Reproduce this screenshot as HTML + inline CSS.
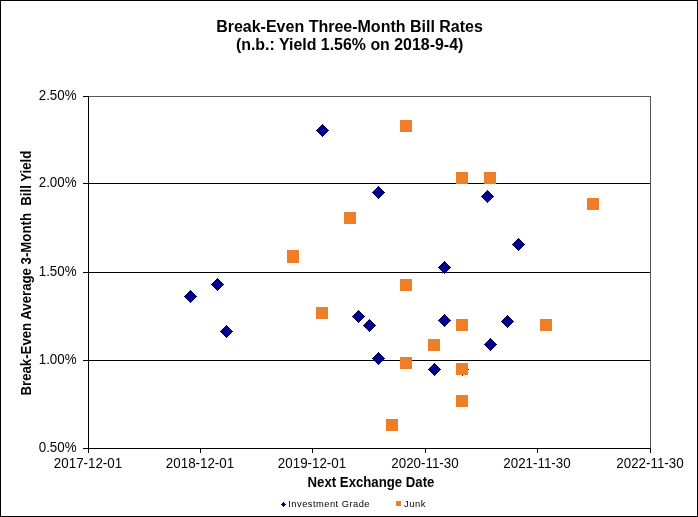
<!DOCTYPE html>
<html><head><meta charset="utf-8"><title>Break-Even Three-Month Bill Rates</title>
<style>
html,body{margin:0;padding:0;background:#fff;}
body{width:698px;height:517px;overflow:hidden;}
svg{display:block;}
text{font-family:"Liberation Sans",sans-serif;fill:#000;}
.b{font-weight:bold;}
#txt{opacity:0.999;}
</style></head><body>
<svg width="698" height="517" viewBox="0 0 698 517">
<rect x="0" y="0" width="698" height="517" fill="#fff"/>
<g shape-rendering="crispEdges">
<!-- outer border -->
<rect x="0" y="0" width="698" height="1" fill="#000"/>
<rect x="0" y="516" width="698" height="1" fill="#000"/>
<rect x="0" y="0" width="1" height="517" fill="#000"/>
<rect x="697" y="0" width="1" height="517" fill="#000"/>
<!-- plot border gray -->
<rect x="89" y="96" width="562" height="1" fill="#555555"/>
<rect x="650" y="96" width="1" height="353" fill="#555555"/>
<!-- gridlines -->
<rect x="89" y="183" width="561" height="1" fill="#000"/>
<rect x="89" y="272" width="561" height="1" fill="#000"/>
<rect x="89" y="360" width="561" height="1" fill="#000"/>
<!-- axes -->
<rect x="88" y="96" width="1" height="353" fill="#000"/>
<rect x="88" y="448" width="563" height="1" fill="#000"/>
<rect x="83" y="96" width="5" height="1" fill="#000"/>
<rect x="83" y="183" width="5" height="1" fill="#000"/>
<rect x="83" y="272" width="5" height="1" fill="#000"/>
<rect x="83" y="360" width="5" height="1" fill="#000"/>
<rect x="83" y="448" width="5" height="1" fill="#000"/>
<rect x="88" y="449" width="1" height="4" fill="#000"/>
<rect x="200" y="449" width="1" height="4" fill="#000"/>
<rect x="312" y="449" width="1" height="4" fill="#000"/>
<rect x="425" y="449" width="1" height="4" fill="#000"/>
<rect x="537" y="449" width="1" height="4" fill="#000"/>
<rect x="650" y="449" width="1" height="4" fill="#000"/>
<!-- diamonds -->
<polygon points="190.5,290.0 197.0,296.5 190.5,303.0 184.0,296.5" fill="#000050"/>
<polygon points="190.5,291.0 196.0,296.5 190.5,302.0 185.0,296.5" fill="#00008c"/>
<polygon points="217.5,278.0 224.0,284.5 217.5,291.0 211.0,284.5" fill="#000050"/>
<polygon points="217.5,279.0 223.0,284.5 217.5,290.0 212.0,284.5" fill="#00008c"/>
<polygon points="226.5,325.0 233.0,331.5 226.5,338.0 220.0,331.5" fill="#000050"/>
<polygon points="226.5,326.0 232.0,331.5 226.5,337.0 221.0,331.5" fill="#00008c"/>
<polygon points="322.5,124.0 329.0,130.5 322.5,137.0 316.0,130.5" fill="#000050"/>
<polygon points="322.5,125.0 328.0,130.5 322.5,136.0 317.0,130.5" fill="#00008c"/>
<polygon points="358.5,310.0 365.0,316.5 358.5,323.0 352.0,316.5" fill="#000050"/>
<polygon points="358.5,311.0 364.0,316.5 358.5,322.0 353.0,316.5" fill="#00008c"/>
<polygon points="369.5,319.0 376.0,325.5 369.5,332.0 363.0,325.5" fill="#000050"/>
<polygon points="369.5,320.0 375.0,325.5 369.5,331.0 364.0,325.5" fill="#00008c"/>
<polygon points="378.5,352.0 385.0,358.5 378.5,365.0 372.0,358.5" fill="#000050"/>
<polygon points="378.5,353.0 384.0,358.5 378.5,364.0 373.0,358.5" fill="#00008c"/>
<polygon points="378.5,186.0 385.0,192.5 378.5,199.0 372.0,192.5" fill="#000050"/>
<polygon points="378.5,187.0 384.0,192.5 378.5,198.0 373.0,192.5" fill="#00008c"/>
<polygon points="444.5,261.0 451.0,267.5 444.5,274.0 438.0,267.5" fill="#000050"/>
<polygon points="444.5,262.0 450.0,267.5 444.5,273.0 439.0,267.5" fill="#00008c"/>
<polygon points="444.5,314.0 451.0,320.5 444.5,327.0 438.0,320.5" fill="#000050"/>
<polygon points="444.5,315.0 450.0,320.5 444.5,326.0 439.0,320.5" fill="#00008c"/>
<polygon points="434.5,363.0 441.0,369.5 434.5,376.0 428.0,369.5" fill="#000050"/>
<polygon points="434.5,364.0 440.0,369.5 434.5,375.0 429.0,369.5" fill="#00008c"/>
<polygon points="462.5,363.0 469.0,369.5 462.5,376.0 456.0,369.5" fill="#000050"/>
<polygon points="462.5,364.0 468.0,369.5 462.5,375.0 457.0,369.5" fill="#00008c"/>
<polygon points="487.5,190.0 494.0,196.5 487.5,203.0 481.0,196.5" fill="#000050"/>
<polygon points="487.5,191.0 493.0,196.5 487.5,202.0 482.0,196.5" fill="#00008c"/>
<polygon points="518.5,238.0 525.0,244.5 518.5,251.0 512.0,244.5" fill="#000050"/>
<polygon points="518.5,239.0 524.0,244.5 518.5,250.0 513.0,244.5" fill="#00008c"/>
<polygon points="507.5,315.0 514.0,321.5 507.5,328.0 501.0,321.5" fill="#000050"/>
<polygon points="507.5,316.0 513.0,321.5 507.5,327.0 502.0,321.5" fill="#00008c"/>
<polygon points="490.5,338.0 497.0,344.5 490.5,351.0 484.0,344.5" fill="#000050"/>
<polygon points="490.5,339.0 496.0,344.5 490.5,350.0 485.0,344.5" fill="#00008c"/>
<!-- squares -->
<rect x="287" y="250" width="12" height="13" fill="#EE7F28"/>
<rect x="316" y="307" width="12" height="12" fill="#EE7F28"/>
<rect x="344" y="212" width="12" height="12" fill="#EE7F28"/>
<rect x="400" y="120" width="12" height="12" fill="#EE7F28"/>
<rect x="400" y="279" width="12" height="12" fill="#EE7F28"/>
<rect x="400" y="357" width="12" height="12" fill="#EE7F28"/>
<rect x="386" y="419" width="12" height="12" fill="#EE7F28"/>
<rect x="428" y="339" width="12" height="12" fill="#EE7F28"/>
<rect x="456" y="172" width="12" height="12" fill="#EE7F28"/>
<rect x="484" y="172" width="12" height="12" fill="#EE7F28"/>
<rect x="456" y="319" width="12" height="12" fill="#EE7F28"/>
<rect x="456" y="363" width="12" height="12" fill="#EE7F28"/>
<rect x="456" y="395" width="12" height="12" fill="#EE7F28"/>
<rect x="540" y="319" width="12" height="12" fill="#EE7F28"/>
<rect x="587" y="198" width="12" height="12" fill="#EE7F28"/>
<!-- legend markers -->
<polygon points="283.5,502 286,504.5 283.5,507 281,504.5" fill="#000080"/>
<rect x="396" y="501" width="5" height="5" fill="#EE7F28"/>
</g>
<g id="txt">
<text class="b" transform="translate(349.5,32)" font-size="16" text-anchor="middle">Break-Even Three-Month Bill Rates</text>
<text class="b" transform="translate(349.6,50) scale(0.996,1)" font-size="16" text-anchor="middle">(n.b.: Yield 1.56% on 2018-9-4)</text>
<text transform="translate(76.6,100.3) scale(0.962,1)" font-size="13.9" text-anchor="end">2.50%</text>
<text transform="translate(76.6,187.3) scale(0.962,1)" font-size="13.9" text-anchor="end">2.00%</text>
<text transform="translate(76.6,276.3) scale(0.962,1)" font-size="13.9" text-anchor="end">1.50%</text>
<text transform="translate(76.6,364.3) scale(0.962,1)" font-size="13.9" text-anchor="end">1.00%</text>
<text transform="translate(76.6,452.3) scale(0.962,1)" font-size="13.9" text-anchor="end">0.50%</text>
<text transform="translate(88,467.6) scale(0.962,1)" font-size="13.9" text-anchor="middle">2017-12-01</text>
<text transform="translate(200,467.6) scale(0.962,1)" font-size="13.9" text-anchor="middle">2018-12-01</text>
<text transform="translate(312,467.6) scale(0.962,1)" font-size="13.9" text-anchor="middle">2019-12-01</text>
<text transform="translate(425,467.6) scale(0.962,1)" font-size="13.9" text-anchor="middle">2020-11-30</text>
<text transform="translate(537,467.6) scale(0.962,1)" font-size="13.9" text-anchor="middle">2021-11-30</text>
<text transform="translate(650,467.6) scale(0.962,1)" font-size="13.9" text-anchor="middle">2022-11-30</text>
<text class="b" transform="translate(371,487) scale(0.95,1)" font-size="13.9" text-anchor="middle">Next Exchange Date</text>
<text class="b" transform="translate(31,273.1) rotate(-90) scale(0.951,1)" font-size="13.9" text-anchor="middle">Break-Even Average 3-Month&#160; Bill Yield</text>
<text transform="translate(288.3,507)" font-size="9.33" text-anchor="start" letter-spacing="0.47">Investment Grade</text>
<text transform="translate(404,507)" font-size="9.33" text-anchor="start" letter-spacing="0.55">Junk</text>
</g>
</svg>
</body></html>
